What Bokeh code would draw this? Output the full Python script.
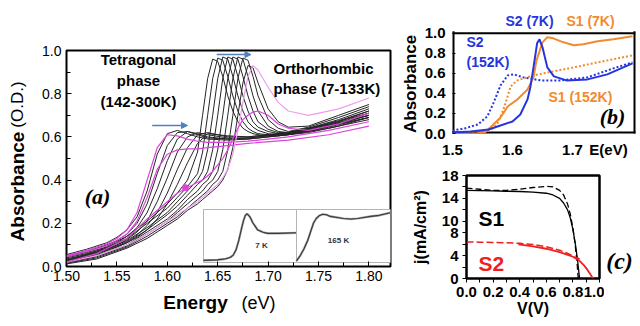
from math import pi
from bokeh.plotting import figure
from bokeh.models import Range1d, FixedTicker, Label, Arrow, NormalHead, NumeralTickFormatter
from bokeh.layouts import row, column
from bokeh.embed import file_html
from bokeh.resources import INLINE

SANS = "Liberation Sans"
SERIF = "Liberation Serif"
BLACK_LINE = "#252525"
MAGENTA = "#d946d9"
PINK = "#f09cf0"
BLUE = "#2634e0"
ORANGE = "#f28a2e"
RED = "#f01e1e"
ARROW_BLUE = "#4f81bd"

# ---------------- panel (a): absorbance vs energy ----------------
# tetragonal-phase spectra (142-300 K)
a_tet_e = [1.50, 1.52, 1.54, 1.55, 1.56, 1.57, 1.58, 1.59, 1.60, 1.61, 1.62, 1.63, 1.64, 1.66, 1.68, 1.72, 1.76, 1.80]
a_tet_m1 = [0.05, 0.075, 0.105, 0.13, 0.17, 0.25, 0.40, 0.55, 0.61, 0.605, 0.59, 0.58, 0.575, 0.575, 0.58, 0.60, 0.63, 0.67]
a_tet_m2 = [0.045, 0.07, 0.095, 0.12, 0.15, 0.21, 0.32, 0.45, 0.52, 0.54, 0.545, 0.545, 0.55, 0.56, 0.57, 0.585, 0.61, 0.65]
a_tet_1 = [0.055, 0.08, 0.11, 0.135, 0.17, 0.23, 0.35, 0.52, 0.615, 0.63, 0.615, 0.60, 0.59, 0.585, 0.59, 0.61, 0.64, 0.68]
a_tet_2 = [0.05, 0.07, 0.10, 0.12, 0.15, 0.20, 0.29, 0.43, 0.56, 0.62, 0.625, 0.61, 0.595, 0.59, 0.59, 0.61, 0.645, 0.69]
a_tet_3 = [0.045, 0.065, 0.09, 0.11, 0.14, 0.18, 0.25, 0.36, 0.49, 0.59, 0.625, 0.615, 0.60, 0.59, 0.595, 0.615, 0.65, 0.69]
a_tet_4 = [0.04, 0.06, 0.085, 0.10, 0.125, 0.16, 0.21, 0.30, 0.41, 0.53, 0.60, 0.62, 0.61, 0.595, 0.595, 0.615, 0.65, 0.70]
a_tet_5 = [0.035, 0.055, 0.08, 0.095, 0.115, 0.145, 0.19, 0.25, 0.34, 0.45, 0.55, 0.61, 0.62, 0.60, 0.60, 0.62, 0.655, 0.70]
a_tet_6 = [0.03, 0.05, 0.075, 0.09, 0.11, 0.135, 0.17, 0.22, 0.29, 0.38, 0.48, 0.57, 0.615, 0.605, 0.60, 0.62, 0.66, 0.71]

# orthorhombic-phase spectra (7-133 K)
a_ort_e = [1.50, 1.53, 1.56, 1.58, 1.60, 1.61, 1.62, 1.63, 1.635, 1.64, 1.645, 1.65, 1.655,
           1.66, 1.665, 1.67, 1.675, 1.68, 1.685, 1.69, 1.70, 1.71, 1.72, 1.74, 1.77, 1.80]
a_ort_1 = [0.03, 0.07, 0.14, 0.21, 0.29, 0.34, 0.40, 0.53, 0.70, 0.87, 0.96, 0.95, 0.88, 0.79, 0.72, 0.67, 0.64, 0.625, 0.615, 0.61, 0.605, 0.605, 0.61, 0.62, 0.65, 0.69]
a_ort_2 = [0.028, 0.065, 0.13, 0.20, 0.27, 0.32, 0.37, 0.43, 0.53, 0.70, 0.87, 0.965, 0.955, 0.88, 0.79, 0.72, 0.67, 0.64, 0.625, 0.615, 0.61, 0.61, 0.615, 0.625, 0.66, 0.70]
a_ort_3 = [0.025, 0.06, 0.12, 0.18, 0.25, 0.30, 0.35, 0.40, 0.44, 0.54, 0.70, 0.87, 0.97, 0.96, 0.88, 0.79, 0.72, 0.67, 0.645, 0.63, 0.615, 0.61, 0.615, 0.63, 0.665, 0.71]
a_ort_4 = [0.022, 0.055, 0.11, 0.17, 0.24, 0.28, 0.33, 0.38, 0.40, 0.44, 0.54, 0.70, 0.87, 0.97, 0.96, 0.88, 0.79, 0.72, 0.67, 0.645, 0.625, 0.615, 0.62, 0.635, 0.67, 0.72]
a_ort_5 = [0.02, 0.05, 0.10, 0.16, 0.22, 0.26, 0.31, 0.35, 0.38, 0.40, 0.44, 0.54, 0.70, 0.87, 0.97, 0.96, 0.88, 0.79, 0.72, 0.67, 0.635, 0.62, 0.62, 0.64, 0.675, 0.72]
a_ort_6 = [0.018, 0.045, 0.095, 0.15, 0.21, 0.25, 0.29, 0.33, 0.35, 0.38, 0.40, 0.44, 0.54, 0.70, 0.87, 0.97, 0.96, 0.88, 0.79, 0.72, 0.65, 0.625, 0.62, 0.64, 0.68, 0.73]
a_ort_7 = [0.015, 0.04, 0.09, 0.14, 0.20, 0.23, 0.27, 0.31, 0.33, 0.35, 0.38, 0.40, 0.44, 0.54, 0.70, 0.87, 0.965, 0.955, 0.88, 0.79, 0.68, 0.64, 0.625, 0.645, 0.69, 0.74]
a_ort_8 = [0.012, 0.035, 0.085, 0.13, 0.19, 0.22, 0.26, 0.29, 0.31, 0.33, 0.35, 0.37, 0.40, 0.45, 0.55, 0.70, 0.85, 0.93, 0.92, 0.85, 0.73, 0.67, 0.645, 0.65, 0.70, 0.75]
a_ort_m3 = [0.02, 0.05, 0.10, 0.15, 0.21, 0.24, 0.27, 0.30, 0.32, 0.34, 0.36, 0.38, 0.41, 0.45, 0.52, 0.63, 0.76, 0.88, 0.93, 0.91, 0.83, 0.76, 0.72, 0.70, 0.73, 0.78]
a_ort_m4 = [0.02, 0.06, 0.13, 0.22, 0.30, 0.34, 0.365, 0.39, 0.40, 0.42, 0.44, 0.47, 0.50, 0.54, 0.59, 0.64, 0.68, 0.70, 0.715, 0.72, 0.70, 0.66, 0.64, 0.63, 0.66, 0.71]
a_dot_e = [1.618]
a_dot_a = [0.365]

# insets (normalised local axes)
in1_x = [0.0, 0.15, 0.24, 0.29, 0.32, 0.35, 0.38, 0.41, 0.43, 0.45, 0.47, 0.50, 0.53, 0.58, 0.64, 0.69, 0.80, 1.0]
in1_y = [0.04, 0.05, 0.07, 0.10, 0.14, 0.24, 0.42, 0.65, 0.79, 0.89, 0.92, 0.86, 0.75, 0.62, 0.57, 0.55, 0.55, 0.56]
in2_x = [0.0, 0.04, 0.08, 0.12, 0.15, 0.18, 0.21, 0.24, 0.28, 0.32, 0.36, 0.43, 0.50, 0.58, 0.65, 0.72, 0.79, 0.88, 1.0]
in2_y = [0.03, 0.13, 0.26, 0.42, 0.58, 0.74, 0.83, 0.88, 0.91, 0.90, 0.87, 0.85, 0.83, 0.82, 0.83, 0.85, 0.87, 0.89, 0.94]

# arrows (x_start, y_start, x_end, y_end)
a_arrows = [(1.585, 0.653, 1.620, 0.653), (1.649, 0.981, 1.683, 0.981)]

a_xticks = [1.50, 1.55, 1.60, 1.65, 1.70, 1.75, 1.80]
a_xminor = [1.525, 1.575, 1.625, 1.675, 1.725, 1.775]
a_yticks = [0.0, 0.2, 0.4, 0.6, 0.8, 1.0]
a_yminor = [0.1, 0.3, 0.5, 0.7, 0.9]

# ---------------- panel (b) ----------------
b_s2_7k_e = [1.50, 1.53, 1.56, 1.58, 1.60, 1.613, 1.625, 1.63, 1.635, 1.641, 1.645, 1.65, 1.658, 1.669, 1.69, 1.725, 1.758, 1.80]
b_s2_7k_a = [0.01, 0.02, 0.04, 0.08, 0.12, 0.19, 0.34, 0.47, 0.66, 0.90, 0.94, 0.86, 0.66, 0.57, 0.53, 0.54, 0.59, 0.70]
b_s2_152k_e = [1.50, 1.52, 1.542, 1.558, 1.568, 1.58, 1.592, 1.602, 1.618, 1.647, 1.68, 1.725, 1.768, 1.80]
b_s2_152k_a = [0.03, 0.05, 0.09, 0.17, 0.30, 0.48, 0.58, 0.59, 0.56, 0.53, 0.53, 0.56, 0.65, 0.71]
b_s1_7k_e = [1.50, 1.54, 1.552, 1.563, 1.58, 1.592, 1.608, 1.625, 1.635, 1.64, 1.65, 1.658, 1.668, 1.685, 1.702, 1.718, 1.742, 1.768, 1.80]
b_s1_7k_a = [0.0, 0.0, 0.01, 0.06, 0.16, 0.27, 0.34, 0.44, 0.56, 0.73, 0.91, 0.96, 0.95, 0.91, 0.88, 0.89, 0.92, 0.94, 0.97]
b_s1_152k_e = [1.50, 1.55, 1.565, 1.575, 1.585, 1.597, 1.608, 1.635, 1.668, 1.702, 1.742, 1.80]
b_s1_152k_a = [0.0, 0.0, 0.04, 0.10, 0.24, 0.47, 0.53, 0.58, 0.62, 0.66, 0.71, 0.78]
b_xticks = [1.5, 1.6, 1.7, 1.76]
b_xtick_text = {1.76: "E(eV)"}
b_yticks = [0.0, 0.2, 0.4, 0.6, 0.8, 1.0]

# ---------------- panel (c): J-V ----------------
c_s1_v = [0.0, 0.1, 0.2, 0.3, 0.4, 0.5, 0.6, 0.65, 0.7, 0.73, 0.76, 0.78, 0.80, 0.82, 0.835, 0.85]
c_s1_j = [15.4, 15.35, 15.3, 15.25, 15.2, 15.1, 14.9, 14.6, 14.0, 13.2, 12.0, 10.6, 8.6, 5.8, 3.2, 0.0]
c_s1d_v = [0.0, 0.1, 0.2, 0.3, 0.4, 0.5, 0.6, 0.65, 0.7, 0.73, 0.76, 0.78, 0.80, 0.815, 0.83, 0.84]
c_s1d_j = [15.8, 15.6, 15.4, 15.4, 15.6, 15.9, 16.1, 16.0, 15.4, 14.6, 13.0, 11.3, 8.8, 6.3, 3.2, 0.0]
c_s2_v = [0.39, 0.5, 0.6, 0.7, 0.75, 0.8, 0.85, 0.88, 0.91, 0.93, 0.95]
c_s2_j = [5.95, 5.6, 5.2, 4.6, 4.2, 3.8, 3.1, 2.4, 1.5, 0.8, 0.0]
c_s2d_v = [0.0, 0.1, 0.2, 0.3, 0.4, 0.5, 0.6, 0.7, 0.75, 0.8, 0.85]
c_s2d_j = [6.4, 6.35, 6.3, 6.25, 6.15, 5.95, 5.55, 4.95, 4.5, 3.95, 3.4]
c_xticks = [0.0, 0.2, 0.4, 0.6, 0.8, 1.0]
c_xminor = [0.1, 0.3, 0.5, 0.7, 0.9]
c_yticks = [0, 4, 8, 10, 14, 18]
c_yminor = [2, 6, 12, 16]

# ---------------- geometry (page pixels, origin top-left) ----------------
H = 325
A_L, A_R, A_T, A_B = 66, 390, 50, 266
A_X = (1.50, 1.8214)
A_Y = (0.0, 1.0)
B_L, B_R, B_T, B_B = 452, 635, 33, 134      # visible box of (b); A = 1.0 at B_T
B_FT = 8                                     # frame top of (b), room for the labels above the box
B_X = (1.5, 1.805)
B_Y = (0.0, 1.0)
C_L, C_R, C_T, C_B = 466, 599, 175, 278
C_X = (0.0, 1.0)
C_Y = (0.0, 18.0)


def mapper(L, R, T, B, X, Y):
    def f(px, py):
        return (X[0] + (px - L) / (R - L) * (X[1] - X[0]),
                Y[0] + (B - py) / (B - T) * (Y[1] - Y[0]))
    return f


a_xy = mapper(A_L, A_R, A_T, A_B, A_X, A_Y)
b_xy = mapper(B_L, B_R, B_T, B_B, B_X, B_Y)
c_xy = mapper(C_L, C_R, C_T, C_B, C_X, C_Y)
B_YFRAME = (B_Y[0], b_xy(B_L, B_FT)[1])


def lab(p, xy, text, size, color="black", style="bold", font=SANS, align="center", angle=0.0):
    p.add_layout(Label(x=xy[0], y=xy[1], text=text, text_font=font, text_font_size=f"{size}px",
                       text_font_style=style, text_color=color, text_align=align,
                       text_baseline="middle", angle=angle))


def blank(w, h, xr, yr):
    """Axis-less figure used only to hold texts; its frame aligns with its neighbour's."""
    p = figure(width=w, height=h, x_range=Range1d(*xr), y_range=Range1d(*yr),
               x_axis_location=None, y_axis_location=None, toolbar_location=None,
               output_backend="svg", min_border=0, min_border_left=0, min_border_right=0,
               min_border_top=0, min_border_bottom=0)
    p.outline_line_color = None
    p.background_fill_color = "white"
    p.border_fill_color = "white"
    p.xgrid.grid_line_color = None
    p.ygrid.grid_line_color = None
    return p


def style(p, outline_w, label_size, label_style):
    p.outline_line_color = "black"
    p.outline_line_width = outline_w
    p.outline_line_alpha = 1.0
    p.xgrid.grid_line_color = None
    p.ygrid.grid_line_color = None
    p.background_fill_color = "white"
    p.border_fill_color = "white"
    for ax in (p.xaxis[0], p.yaxis[0]):
        ax.axis_line_color = None
        ax.major_label_text_font = SANS
        ax.major_label_text_font_size = f"{label_size}px"
        ax.major_label_text_font_style = label_style
        ax.major_label_text_color = "black"
        ax.major_tick_line_color = "black"
        ax.minor_tick_line_color = "black"
        ax.axis_label_text_font = SANS
        ax.axis_label_text_font_style = "bold"
        ax.axis_label_text_color = "black"


# ---------------- figure (a) ----------------
FA_X0, FA_W, FA_H = 28, 372, 290
pa = figure(width=FA_W, height=FA_H, x_range=Range1d(*A_X), y_range=Range1d(*A_Y),
            output_backend="svg", toolbar_location=None,
            min_border_left=A_L - FA_X0, min_border_right=FA_X0 + FA_W - A_R,
            min_border_top=A_T, min_border_bottom=FA_H - A_B)
style(pa, 2, 14, "normal")
pa.xaxis.ticker = FixedTicker(ticks=a_xticks, minor_ticks=a_xminor)
pa.yaxis.ticker = FixedTicker(ticks=a_yticks, minor_ticks=a_yminor)
pa.xaxis.formatter = NumeralTickFormatter(format="0.00")
pa.yaxis.formatter = NumeralTickFormatter(format="0.0")
for ax in (pa.xaxis[0], pa.yaxis[0]):
    ax.major_tick_in = 5
    ax.major_tick_out = 0
    ax.minor_tick_in = 4
    ax.minor_tick_out = 0
pa.xaxis.major_label_standoff = 4
pa.yaxis.major_label_standoff = 5


def inset_x(p0, p1):
    w = p1 - p0
    return Range1d(-(p0 - A_L) / w, (A_R - p0) / w)


def inset_y(top, bot):
    h = bot - top
    return Range1d(-(A_B - bot) / h, (bot - A_T) / h)


pa.extra_x_ranges = {"in1": inset_x(203, 296), "in2": inset_x(296, 390)}
pa.extra_y_ranges = {"iny": inset_y(209, 262)}
for nm, xs, ys in (("in1", in1_x, in1_y), ("in2", in2_x, in2_y)):
    pa.quad(left=[0], right=[1], bottom=[0], top=[1], fill_color="white",
            line_color="#b4b4b4", line_width=1, x_range_name=nm, y_range_name="iny")
    pa.line(xs, ys, line_color="#a0a0a0", line_width=2.2, x_range_name=nm, y_range_name="iny")
    pa.line(xs, ys, line_color="#3a3a3a", line_width=1.1, x_range_name=nm, y_range_name="iny")
lab(pa, a_xy(261, 245), "7 K", 8, color="#333333")
lab(pa, a_xy(338, 240), "165 K", 8, color="#333333")

for vals in (a_tet_1, a_tet_2, a_tet_3, a_tet_4, a_tet_5, a_tet_6):
    pa.line(a_tet_e, vals, line_color=BLACK_LINE, line_width=1, line_join="round")
for vals in (a_ort_1, a_ort_2, a_ort_3, a_ort_4, a_ort_5, a_ort_6, a_ort_7, a_ort_8):
    pa.line(a_ort_e, vals, line_color=BLACK_LINE, line_width=1, line_join="round")
pa.line(a_tet_e, a_tet_m1, line_color=MAGENTA, line_width=1.2, line_join="round")
pa.line(a_tet_e, a_tet_m2, line_color=MAGENTA, line_width=1.2, line_join="round")
pa.line(a_ort_e, a_ort_m3, line_color=PINK, line_width=1.2, line_join="round")
pa.line(a_ort_e, a_ort_m4, line_color=MAGENTA, line_width=1.2, line_join="round")
pa.scatter(a_dot_e, a_dot_a, size=6, color=MAGENTA)

for (x0, y0, x1, y1) in a_arrows:
    pa.add_layout(Arrow(end=NormalHead(size=6, fill_color=ARROW_BLUE, line_color=ARROW_BLUE),
                        x_start=x0, y_start=y0, x_end=x1, y_end=y1,
                        line_color=ARROW_BLUE, line_width=1.5))

lab(pa, a_xy(138, 59), "Tetragonal", 15)
lab(pa, a_xy(138, 80), "phase", 15)
lab(pa, a_xy(138, 101), "(142-300K)", 15)
lab(pa, a_xy(273, 68), "Orthorhombic", 15, align="left")
lab(pa, a_xy(273, 88), "phase (7-133K)", 15, align="left")
lab(pa, a_xy(97, 196), "(a)", 22, font=SERIF, style="bold italic")

# y-label of (a): stand-alone strip at the far left (page x 0..28)
ya = blank(FA_X0, H, (0, FA_X0), (0, H))
lab(ya, (17, H - 186), "Absorbance", 19, angle=pi / 2)
lab(ya, (17, H - 104), "(O.D.)", 17, style="normal", angle=pi / 2)
# x-label of (a): strip below, its frame aligned with the frame of (a)
XA_H = H - FA_H
xa = blank(FA_W, XA_H, A_X, (0, XA_H))
lab(xa, (a_xy(195, 0)[0], XA_H - (302 - FA_H)), "Energy", 19)
lab(xa, (a_xy(258, 0)[0], XA_H - (302 - FA_H)), "(eV)", 18, style="normal")

# ---------------- figure (b) ----------------
RX0, RW = 400, 239
YB_W = 20
FB_W = RW - YB_W
FB_H = 160
pb = figure(width=FB_W, height=FB_H, x_range=Range1d(*B_X), y_range=Range1d(*B_YFRAME),
            output_backend="svg", toolbar_location=None,
            min_border_left=B_L - RX0 - YB_W, min_border_right=RX0 + RW - B_R,
            min_border_top=B_FT, min_border_bottom=FB_H - B_B)
style(pb, 2, 15, "bold")
pb.outline_line_color = None
pb.xaxis.ticker = FixedTicker(ticks=b_xticks)
pb.yaxis.ticker = FixedTicker(ticks=b_yticks)
pb.xaxis.formatter = NumeralTickFormatter(format="0.0")
pb.yaxis.formatter = NumeralTickFormatter(format="0.0")
pb.xaxis.major_label_overrides = b_xtick_text
for ax in (pb.xaxis[0], pb.yaxis[0]):
    ax.major_tick_in = 0
    ax.major_tick_out = 0
    ax.minor_tick_in = 0
    ax.minor_tick_out = 0
pb.yaxis.major_tick_in = 3
pb.xaxis.major_label_standoff = 7
pb.yaxis.major_label_standoff = 7

# box of (b): sides on the frame edges are half clipped, so drawn twice as wide
pb.segment(x0=[B_X[0], B_X[1], B_X[0]], y0=[B_Y[0], B_Y[0], B_Y[0]],
           x1=[B_X[0], B_X[1], B_X[1]], y1=[B_Y[1], B_Y[1], B_Y[0]],
           line_color="black", line_width=4, line_cap="square")
pb.segment(x0=[B_X[0]], y0=[B_Y[1]], x1=[B_X[1]], y1=[B_Y[1]], line_color="black", line_width=2)

pb.line(b_s2_152k_e, b_s2_152k_a, line_color=BLUE, line_width=2, line_dash="2 2")
pb.line(b_s1_152k_e, b_s1_152k_a, line_color=ORANGE, line_width=2, line_dash="2 2")
pb.line(b_s1_7k_e, b_s1_7k_a, line_color=ORANGE, line_width=2)
pb.line(b_s2_7k_e, b_s2_7k_a, line_color=BLUE, line_width=2)

lab(pb, b_xy(529, 21), "S2 (7K)", 14, color=BLUE)
lab(pb, b_xy(590, 21), "S1 (7K)", 14, color=ORANGE)
lab(pb, b_xy(466, 42), "S2", 14, color=BLUE, align="left")
lab(pb, b_xy(466, 62), "(152K)", 14, color=BLUE, align="left")
lab(pb, b_xy(548, 97), "S1 (152K)", 14, color=ORANGE, align="left")
lab(pb, b_xy(612, 117), "(b)", 22, font=SERIF, style="bold italic")

# y-label of (b): strip on its left, frame aligned vertically with (b)
yb = blank(YB_W, FB_H, (0, YB_W), B_YFRAME)
lab(yb, (10, b_xy(0, 84)[1]), "Absorbance", 17, angle=pi / 2)

# ---------------- figure (c) ----------------
FC_W = 204
FC_H = H - 160
pc = figure(width=FC_W, height=FC_H, x_range=Range1d(*C_X), y_range=Range1d(*C_Y),
            output_backend="svg", toolbar_location=None,
            min_border_left=C_L - RX0, min_border_right=RX0 + FC_W - C_R,
            min_border_top=C_T - 160, min_border_bottom=H - C_B)
style(pc, 2.5, 15, "bold")
pc.xaxis.ticker = FixedTicker(ticks=c_xticks, minor_ticks=c_xminor)
pc.yaxis.ticker = FixedTicker(ticks=c_yticks, minor_ticks=c_yminor)
pc.xaxis.formatter = NumeralTickFormatter(format="0.0")
pc.yaxis.formatter = NumeralTickFormatter(format="0")
for ax in (pc.xaxis[0], pc.yaxis[0]):
    ax.major_tick_in = 0
    ax.major_tick_out = 4
    ax.minor_tick_in = 0
    ax.minor_tick_out = 4
pc.xaxis.major_label_standoff = 4
pc.yaxis.major_label_standoff = 4
pc.yaxis.axis_label = "j(mA/cm²)"
pc.yaxis.axis_label_text_font_size = "16px"
pc.yaxis.axis_label_standoff = 10
pc.xaxis.axis_label = "V(V)"
pc.xaxis.axis_label_text_font_size = "16px"
pc.xaxis.axis_label_standoff = 0

pc.line(c_s1d_v, c_s1d_j, line_color="black", line_width=1.3, line_dash="6 3")
pc.line(c_s1_v, c_s1_j, line_color="black", line_width=1.3)
pc.line(c_s2d_v, c_s2d_j, line_color=RED, line_width=1.5, line_dash="7 3")
pc.line(c_s2_v, c_s2_j, line_color=RED, line_width=1.8)

lab(pc, c_xy(478, 218), "S1", 21, align="left")
lab(pc, c_xy(478, 263), "S2", 21, color=RED, align="left")

# "(c)" strip on the right of (c), frame aligned vertically with (c)
CL_W = RW - FC_W
cl = blank(CL_W, FC_H, (0, CL_W), C_Y)
lab(cl, (619 - RX0 - FC_W, c_xy(0, 260)[1]), "(c)", 24, font=SERIF, style="bold italic")

layout = row(ya, column(pa, xa), column(row(yb, pb), row(pc, cl)))
open("out.html", "w").write(file_html(layout, INLINE))
